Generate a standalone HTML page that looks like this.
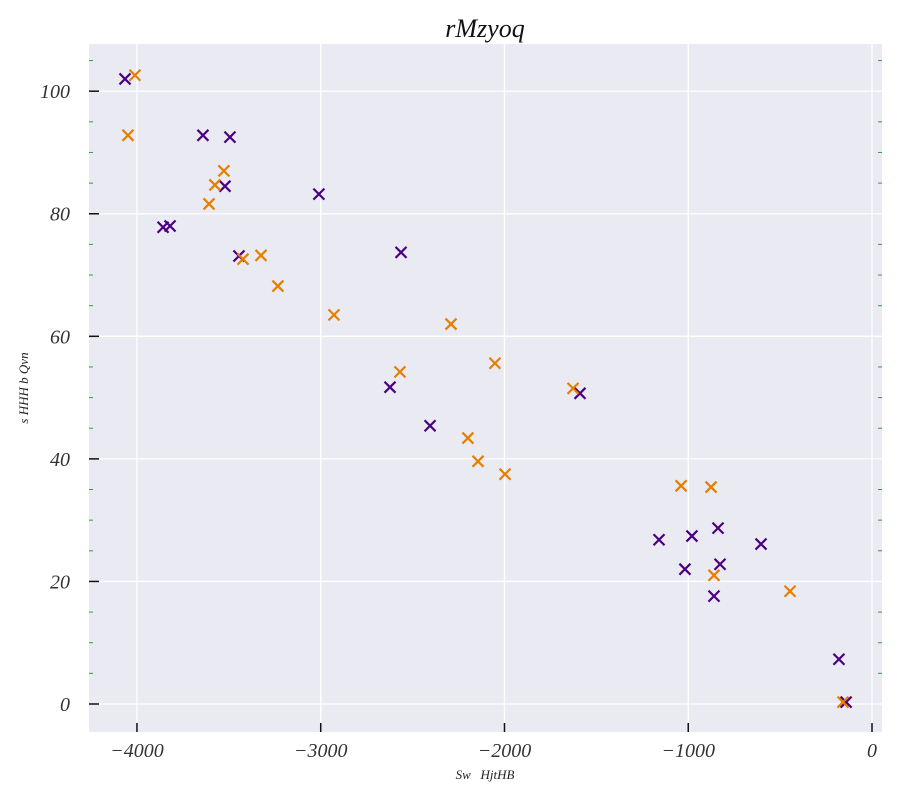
<!DOCTYPE html>
<html><head><meta charset="utf-8"><style>
body{margin:0;background:#fff;}
svg text{font-family:"Liberation Serif",serif;font-style:italic;}
</style></head><body>
<svg width="900" height="800" xmlns="http://www.w3.org/2000/svg" id="chart">
<rect x="89" y="44" width="793" height="688" fill="#eaeaf2"/>
<g id="grid"></g><g id="ticks"></g><g id="marks"></g>
<text x="485" y="37" font-size="26" text-anchor="middle" fill="#111">rMzyoq</text>
<text x="485" y="779" font-size="13" text-anchor="middle" fill="#222" style="white-space:pre">Sw   HjtHB</text>
<text transform="translate(28,388) rotate(-90)" font-size="13" text-anchor="middle" fill="#222">s HHH b Qvn</text>
</svg>
<script>
const xTicks=[-4000,-3000,-2000,-1000,0];
const xTickLabels=["−4000","−3000","−2000","−1000","0"];
const yTicks=[0,20,40,60,80,100];
const yTickLabels=["0","20","40","60","80","100"];
const purpleX=[-4065,-3641,-3494,-3521,-3858,-3820,-3445,-3010,-2563,-2623,-2405,-1589,-1159,-980,-838,-1018,-827,-860,-604,-180,-141];
const purpleY=[102,92.8,92.5,84.5,77.8,78,73.1,83.2,73.7,51.7,45.4,50.7,26.8,27.4,28.7,22,22.8,17.6,26.1,7.3,0.3];
const orangeX=[-4011,-4049,-3527,-3576,-3608,-3423,-3325,-3233,-2928,-2569,-2291,-2052,-2199,-2144,-1997,-1627,-1039,-876,-860,-446,-158];
const orangeY=[102.6,92.8,87,84.7,81.6,72.6,73.2,68.2,63.5,54.2,62,55.6,43.4,39.6,37.5,51.5,35.6,35.4,21,18.4,0.3];
const L=89,R=882,T=44,B=732;
const xMin=-4261,xMax=54.4,yMin=-4.57,yMax=107.7;
const sx=v=>L+(v-xMin)/(xMax-xMin)*(R-L);
const sy=v=>B-(v-yMin)/(yMax-yMin)*(B-T);
const NS="http://www.w3.org/2000/svg";
function mk(tag,attrs,parent){const e=document.createElementNS(NS,tag);for(const k in attrs)e.setAttribute(k,attrs[k]);parent.appendChild(e);return e;}
const grid=document.getElementById('grid'),ticks=document.getElementById('ticks'),marks=document.getElementById('marks');
xTicks.forEach((v,i)=>{const x=sx(v);
 let g=mk('line',{x1:x,x2:x,y1:T,y2:B,stroke:'#fff','stroke-width':1.3},grid);
 
 let t=mk('line',{x1:x,x2:x,y1:B-9,y2:B,stroke:'#111','stroke-width':1.5},ticks);
 
 let l=mk('text',{x:x,y:757,'font-size':20,'text-anchor':'middle',fill:'#333'},ticks);l.textContent=xTickLabels[i];
 });
yTicks.forEach((v,i)=>{const y=sy(v);
 let g=mk('line',{x1:L,x2:R,y1:y,y2:y,stroke:'#fff','stroke-width':1.3},grid);
 
 let t=mk('line',{x1:L,x2:L+10,y1:y,y2:y,stroke:'#111','stroke-width':1.5},ticks);
 
 let l=mk('text',{x:70,y:y+7,'font-size':20,'text-anchor':'end',fill:'#333'},ticks);l.textContent=yTickLabels[i];
 });
for(let v=-5;v<=105;v+=5){if(v%20===0)continue;const y=sy(v);if(y<T||y>B)continue;
 let a=mk('line',{x1:L,x2:L+4,y1:y,y2:y,stroke:'#3a9a3a','stroke-width':1},ticks);
 
 let b=mk('line',{x1:R-4,x2:R,y1:y,y2:y,stroke:'#3a9a3a','stroke-width':1},ticks);
 }
function cross(xv,yv,color,name){const x=sx(xv),y=sy(yv),s=5.5;
 const g=mk('g',{stroke:color,'stroke-width':2.2},marks);
 
 mk('line',{x1:x-s,y1:y-s,x2:x+s,y2:y+s},g);mk('line',{x1:x-s,y1:y+s,x2:x+s,y2:y-s},g);}
purpleX.forEach((v,i)=>cross(v,purpleY[i],'#4b0082','purple-point'));
orangeX.forEach((v,i)=>cross(v,orangeY[i],'#e67e00','orange-point'));
</script>
</body></html>
